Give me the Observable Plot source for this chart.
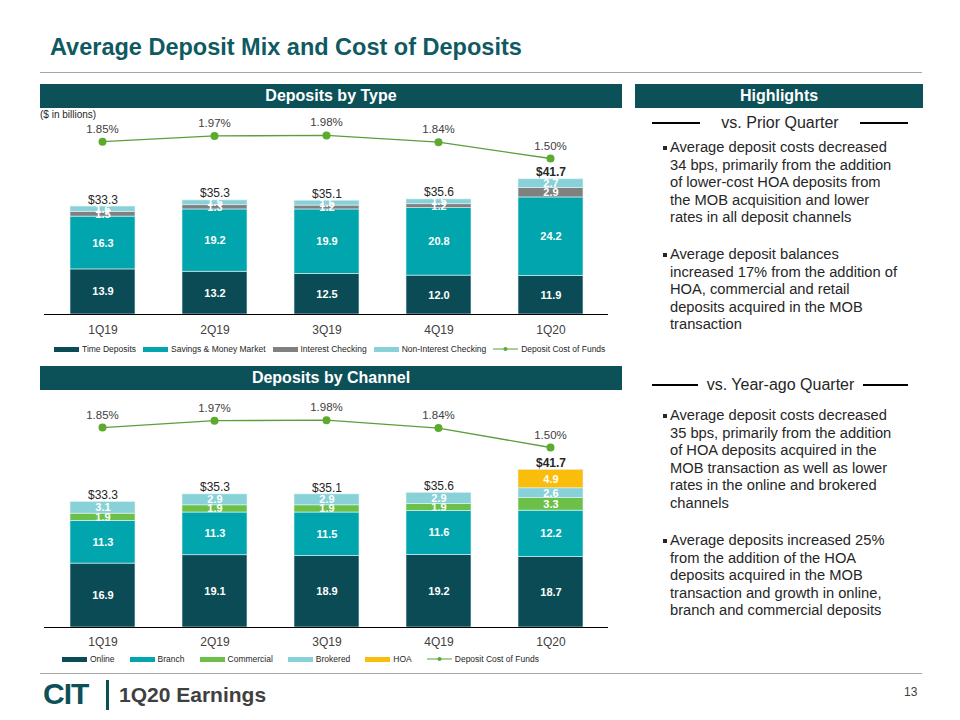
<!DOCTYPE html>
<html><head><meta charset="utf-8">
<script src="https://cdn.jsdelivr.net/npm/d3@7"></script>
<script src="https://cdn.jsdelivr.net/npm/@observablehq/plot@0.6"></script>
<style>
  html,body{margin:0;padding:0;background:#fff;}
  #page{position:relative;width:960px;height:720px;overflow:hidden;font-family:"Liberation Sans",Arial,sans-serif;color:#262626;}
  .abs{position:absolute;}
  .title{left:50px;top:34px;font-size:23.5px;font-weight:bold;color:#0f5a62;line-height:26px;white-space:nowrap;}
  .rule{height:1px;background:#a6a6a6;}
  .hdr{height:24px;line-height:24px;background:#0c5058;color:#fff;font-weight:bold;font-size:16px;text-align:center;}
  .sub{font-size:16px;line-height:18px;text-align:center;white-space:nowrap;}
  .dash{height:2px;background:#000;}
  .bul{left:670px;font-size:14.7px;line-height:17.5px;white-space:nowrap;color:#262626;}
  .bul::before{content:"";position:absolute;left:-7px;top:7px;width:4px;height:4px;background:#262626;}
  .legend{position:absolute;display:flex;align-items:center;font-size:8.5px;color:#262626;white-space:nowrap;}
  .item{display:flex;align-items:center;}
  .sw{display:inline-block;width:25px;height:5px;margin-right:3px;}
  .plotbox{position:absolute;left:0;}
</style>
</head><body>
<div id="page">
  <div class="abs title">Average Deposit Mix and Cost of Deposits</div>
  <div class="abs rule" style="left:40px;top:72px;width:882px;"></div>
  <div class="abs hdr" style="left:40px;top:84px;width:582px;">Deposits by Type</div>
  <div class="abs hdr" style="left:635px;top:84px;width:288px;">Highlights</div>
  <div class="abs hdr" style="left:40px;top:366px;width:582px;">Deposits by Channel</div>
  <div class="abs" style="left:40px;top:109px;font-size:10px;color:#262626;">($ in billions)</div>

  <div class="abs dash" style="left:652px;top:122px;width:48px;"></div>
  <div class="abs sub" style="left:700px;top:114px;width:160px;">vs. Prior Quarter</div>
  <div class="abs dash" style="left:860px;top:122px;width:48px;"></div>
  <div class="abs bul" style="top:139px;">Average deposit costs decreased<br>34 bps, primarily from the addition<br>of lower-cost HOA deposits from<br>the MOB acquisition and lower<br>rates in all deposit channels</div>
  <div class="abs bul" style="top:246px;">Average deposit balances<br>increased 17% from the addition of<br>HOA, commercial and retail<br>deposits acquired in the MOB<br>transaction</div>

  <div class="abs dash" style="left:652px;top:384px;width:46px;"></div>
  <div class="abs sub" style="left:698px;top:376px;width:165px;">vs. Year-ago Quarter</div>
  <div class="abs dash" style="left:863px;top:384px;width:45px;"></div>
  <div class="abs bul" style="top:407px;">Average deposit costs decreased<br>35 bps, primarily from the addition<br>of HOA deposits acquired in the<br>MOB transaction as well as lower<br>rates in the online and brokered<br>channels</div>
  <div class="abs bul" style="top:532px;">Average deposits increased 25%<br>from the addition of the HOA<br>deposits acquired in the MOB<br>transaction and growth in online,<br>branch and commercial deposits</div>

  <div id="barsTop" class="plotbox" style="top:160px;"></div>
  <div id="lineTop" class="plotbox" style="top:110px;"></div>
  <div id="legendTop" class="legend" style="left:54px;top:344px;gap:7px;"></div>

  <div id="barsBot" class="plotbox" style="top:450px;"></div>
  <div id="lineBot" class="plotbox" style="top:395px;"></div>
  <div id="legendBot" class="legend" style="left:62px;top:654px;gap:15px;"></div>

  <div class="abs rule" style="left:40px;top:673px;width:882px;"></div>
  <div class="abs" style="left:43px;top:676px;font-size:30px;font-weight:bold;color:#0c5058;line-height:36px;letter-spacing:-1px;">CIT</div>
  <div class="abs" style="left:106px;top:680px;width:3px;height:30px;background:#0c5058;"></div>
  <div class="abs" style="left:119px;top:683px;font-size:21px;font-weight:bold;color:#404040;line-height:24px;">1Q20 Earnings</div>
  <div class="abs" style="left:904px;top:685px;font-size:12px;color:#404040;">13</div>
</div>
<script>
const quarters = ["1Q19", "2Q19", "3Q19", "4Q19", "1Q20"];
const costOfFunds = [1.85, 1.97, 1.98, 1.84, 1.50];

const typeSeries = ["Time Deposits", "Savings & Money Market", "Interest Checking", "Non-Interest Checking"];
const timeDeposits = [13.9, 13.2, 12.5, 12.0, 11.9];
const savingsMoneyMarket = [16.3, 19.2, 19.9, 20.8, 24.2];
const interestChecking = [1.5, 1.3, 1.2, 1.2, 2.9];
const nonInterestChecking = [1.6, 1.5, 1.5, 1.5, 2.7];
const typeTotals = [33.3, 35.3, 35.1, 35.6, 41.7];

const channelSeries = ["Online", "Branch", "Commercial", "Brokered", "HOA"];
const online = [16.9, 19.1, 18.9, 19.2, 18.7];
const branch = [11.3, 11.3, 11.5, 11.6, 12.2];
const commercial = [1.9, 1.9, 1.9, 1.9, 3.3];
const brokered = [3.1, 2.9, 2.9, 2.9, 2.6];
const hoa = [0, 0, 0, 0, 4.9];
const channelTotals = [33.3, 35.3, 35.1, 35.6, 41.7];

const lineLabel = "Deposit Cost of Funds";
const typeColors = ["#0a4b55", "#00a5ad", "#808080", "#88d1d8"];
const channelColors = ["#0a4b55", "#00a5ad", "#6cc04a", "#88d1d8", "#fbbd0b"];
const FONT = "'Liberation Sans', Arial, sans-serif";
const xScale = {domain: quarters, paddingInner: 0.42, paddingOuter: 0.21};

function bars(el, names, values, colors, totals, H, mb, ymax, tp) {
  const rows = [];
  quarters.forEach((q, i) => names.forEach((s, j) => rows.push({q, s, v: values[j][i]})));
  const tot = quarters.map((q, i) => ({q, t: totals[i], last: i === quarters.length - 1}));
  const p = Plot.plot({
    width: 620, height: H, marginLeft: 44, marginRight: 12, marginTop: 0, marginBottom: mb,
    style: {background: "transparent", fontFamily: FONT, color: "#404040", overflow: "visible"},
    x: {...xScale, label: null},
    y: {domain: [0, ymax], axis: null},
    color: {domain: names, range: colors},
    marks: [
      Plot.barY(rows, {x: "q", y: "v", fill: "s", stroke: "#e3f5f6", strokeWidth: 0.6}),
      Plot.text(rows.filter(d => d.v > 0), Plot.stackY({x: "q", y: "v", z: "s", text: d => d.v.toFixed(1), fill: "white", fontWeight: "bold", fontSize: 11})),
      Plot.text(tot.filter(d => !d.last), {x: "q", y: "t", text: d => "$" + d.t.toFixed(1), lineAnchor: "bottom", dy: -3, fontSize: 12, fill: "#262626"}),
      Plot.text(tot.filter(d => d.last), {x: "q", y: "t", text: d => "$" + d.t.toFixed(1), lineAnchor: "bottom", dy: -3, fontSize: 12, fontWeight: "bold", fill: "#262626"}),
      Plot.ruleY([0], {stroke: "#000", strokeWidth: 1.2}),
      Plot.axisX({tickSize: 0, tickPadding: tp, fontSize: 12, label: null})
    ]
  });
  document.getElementById(el).appendChild(p);
}

function line(el, H, lo, hi) {
  const rows = quarters.map((q, i) => ({q, c: costOfFunds[i]}));
  const p = Plot.plot({
    width: 620, height: H, marginLeft: 44, marginRight: 12, marginTop: 0, marginBottom: 0,
    style: {background: "transparent", fontFamily: FONT, overflow: "visible"},
    x: {...xScale, axis: null},
    y: {domain: [lo, hi], axis: null},
    marks: [
      Plot.line(rows, {x: "q", y: "c", stroke: "#5b9e3c", strokeWidth: 1.3}),
      Plot.dot(rows, {x: "q", y: "c", r: 4, fill: "#5cab2e"}),
      Plot.text(rows, {x: "q", y: "c", text: d => d.c.toFixed(2) + "%", lineAnchor: "bottom", dy: -9, fontSize: 11.5, fill: "#404040"})
    ]
  });
  document.getElementById(el).appendChild(p);
}

function legend(el, names, colors) {
  const box = document.getElementById(el);
  names.forEach((n, i) => {
    const it = document.createElement("span");
    it.className = "item";
    it.innerHTML = `<span class="sw" style="background:${colors[i]}"></span>${n.replace(/&/g, "&amp;")}`;
    box.appendChild(it);
  });
  const it = document.createElement("span");
  it.className = "item";
  it.innerHTML = `<svg width="25" height="8" style="margin-right:3px"><line x1="0" x2="25" y1="4" y2="4" stroke="#5b9e3c" stroke-width="1"/><circle cx="12.5" cy="4" r="2" fill="#5cab2e"/></svg>${lineLabel}`;
  box.appendChild(it);
}

bars("barsTop", typeSeries, [timeDeposits, savingsMoneyMarket, interestChecking, nonInterestChecking], typeColors, typeTotals, 180, 26, 47.5, 11);
line("lineTop", 60, 1.25, 2.5);
legend("legendTop", typeSeries, typeColors);

bars("barsBot", channelSeries, [online, branch, commercial, brokered, hoa], channelColors, channelTotals, 200, 23, 46.8, 10);
line("lineBot", 65, 1.272, 2.412);
legend("legendBot", channelSeries, channelColors);
</script>
</body></html>
